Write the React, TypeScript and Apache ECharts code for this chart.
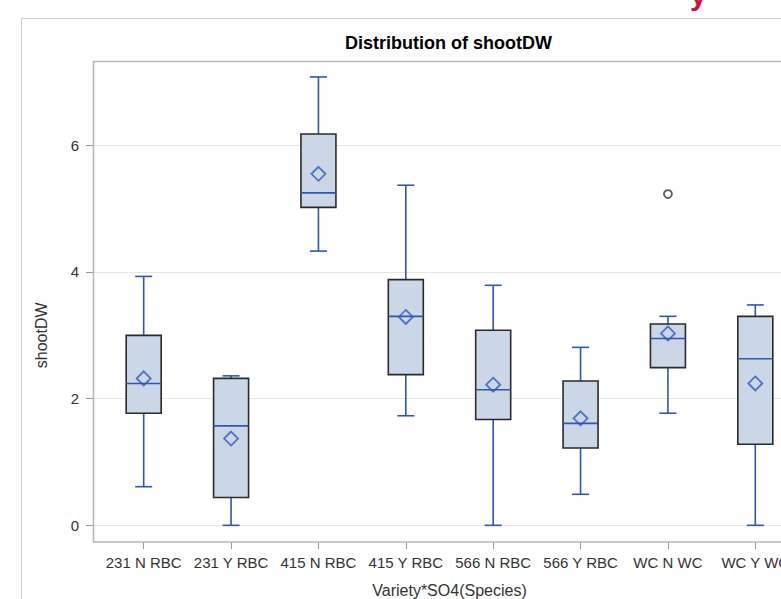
import React, { useEffect, useRef } from "react";
import * as echarts from "echarts";

const categories = ["231 N RBC", "231 Y RBC", "415 N RBC", "415 Y RBC", "566 N RBC", "566 Y RBC", "WC N WC", "WC Y WC"];
const whiskerLow = [0.61, 0.0, 4.33, 1.73, 0.0, 0.49, 1.77, 0.0];
const q1 = [1.77, 0.44, 5.02, 2.38, 1.67, 1.22, 2.49, 1.28];
const median = [2.24, 1.57, 5.25, 3.3, 2.14, 1.61, 2.95, 2.63];
const q3 = [3.0, 2.32, 6.18, 3.88, 3.08, 2.28, 3.18, 3.3];
const whiskerHigh = [3.93, 2.36, 7.08, 5.37, 3.79, 2.81, 3.3, 3.48];
const means = [2.32, 1.37, 5.55, 3.29, 2.22, 1.69, 3.03, 2.24];
const outliers: [number, number][] = [[6, 5.23]];
const yTicks = [0, 2, 4, 6];

const FONT = "'Liberation Sans', Arial, sans-serif";
const LINE_BLUE = "#2f56b0";

export default function App() {
  const ref = useRef<HTMLDivElement>(null);
  useEffect(() => {
    document.body.style.margin = "0";
    const chart = echarts.init(ref.current!, undefined, { renderer: "svg" });
    const boxData = categories.map((_, i) => [i, whiskerLow[i], q1[i], median[i], q3[i], whiskerHigh[i]]);
    const option: any = {
      animation: false,
      backgroundColor: "#ffffff",
      title: {
        text: "Distribution of shootDW",
        left: 345,
        top: 34,
        padding: 0,
        textStyle: { fontFamily: FONT, fontSize: 18, fontWeight: "bold", color: "#000" },
      },
      grid: { left: 93, top: 145.33, width: 713, height: 380, containLabel: false, outerBoundsMode: "none" },
      xAxis: {
        type: "value",
        min: -0.5802,
        max: 7.5802,
        offset: 16.67,
        name: "Variety*SO4(Species)",
        nameLocation: "middle",
        nameGap: 40,
        nameTextStyle: { fontFamily: FONT, fontSize: 16, color: "#333" },
        axisLine: { show: false, onZero: false },
        splitLine: { show: false },
        axisTick: { show: true, length: 7, lineStyle: { color: "#999" }, customValues: categories.map((_, i) => i) },
        axisLabel: {
          customValues: categories.map((_, i) => i),
          formatter: (v: number) => categories[Math.round(v)] ?? "",
          fontFamily: FONT,
          fontSize: 15,
          color: "#333",
          margin: 13,
        },
      },
      yAxis: {
        type: "value",
        min: 0,
        max: 6,
        interval: 2,
        name: "shootDW",
        nameLocation: "middle",
        nameGap: 44,
        nameTextStyle: { fontFamily: FONT, fontSize: 16, color: "#333" },
        axisLine: { show: false, onZero: false },
        axisTick: { show: true, length: 7, lineStyle: { color: "#999" } },
        axisLabel: {
          fontFamily: FONT,
          fontSize: 15,
          color: "#333",
          margin: 14,
          formatter: (v: number) => (yTicks.includes(v) ? String(v) : ""),
        },
        splitLine: { show: true, lineStyle: { color: "#e6e6e6", width: 1 } },
      },
      graphic: [
        {
          type: "rect",
          shape: { x: 21.5, y: 18.5, width: 800, height: 620 },
          style: { fill: "none", stroke: "#cccccc", lineWidth: 1 },
          z: -10,
        },
        {
          type: "rect",
          shape: { x: 93.5, y: 61.5, width: 713, height: 480.5 },
          style: { fill: "none", stroke: "#b4b8bc", lineWidth: 1.5 },
          z: 10,
        },
        {
          type: "text",
          x: 690,
          y: 9,
          style: { text: "y", fill: "#d0103a", fontFamily: FONT, fontSize: 30, fontWeight: "bold", verticalAlign: "bottom" },
        },
      ],
      series: [
        {
          type: "custom",
          clip: false,
          data: boxData,
          encode: { x: 0, y: [1, 2, 3, 4, 5] },
          renderItem: (params: any, api: any) => {
            const i = api.value(0);
            const pLow = api.coord([i, api.value(1)]);
            const pQ1 = api.coord([i, api.value(2)]);
            const pMed = api.coord([i, api.value(3)]);
            const pQ3 = api.coord([i, api.value(4)]);
            const pHigh = api.coord([i, api.value(5)]);
            const cx = pLow[0];
            const bw = 35;
            const cw = 17;
            const lineStyle = { stroke: LINE_BLUE, lineWidth: 1.6 };
            return {
              type: "group",
              children: [
                { type: "line", shape: { x1: cx, y1: pQ3[1], x2: cx, y2: pHigh[1] }, style: lineStyle },
                { type: "line", shape: { x1: cx, y1: pQ1[1], x2: cx, y2: pLow[1] }, style: lineStyle },
                { type: "line", shape: { x1: cx - cw / 2, y1: pHigh[1], x2: cx + cw / 2, y2: pHigh[1] }, style: lineStyle },
                { type: "line", shape: { x1: cx - cw / 2, y1: pLow[1], x2: cx + cw / 2, y2: pLow[1] }, style: lineStyle },
                {
                  type: "rect",
                  shape: { x: cx - bw / 2, y: pQ3[1], width: bw, height: pQ1[1] - pQ3[1] },
                  style: { fill: "#cbd6e6", stroke: "#2a2a2a", lineWidth: 1.6 },
                },
                { type: "line", shape: { x1: cx - bw / 2, y1: pMed[1], x2: cx + bw / 2, y2: pMed[1] }, style: lineStyle },
              ],
            };
          },
          z: 2,
        },
        {
          type: "scatter",
          clip: false,
          data: means.map((m, i) => [i, m]),
          symbol: "diamond",
          symbolSize: [14, 14],
          itemStyle: { color: "rgba(0,0,0,0)", borderColor: "#2d57bd", borderWidth: 1.8 },
          z: 5,
        },
        {
          type: "scatter",
          clip: false,
          data: outliers,
          symbol: "circle",
          symbolSize: 8,
          itemStyle: { color: "rgba(0,0,0,0)", borderColor: "#333", borderWidth: 1.8 },
          z: 5,
        },
      ],
    };
    chart.setOption(option);
    return () => chart.dispose();
  }, []);
  return <div ref={ref} style={{ width: 781, height: 599 }} />;
}
